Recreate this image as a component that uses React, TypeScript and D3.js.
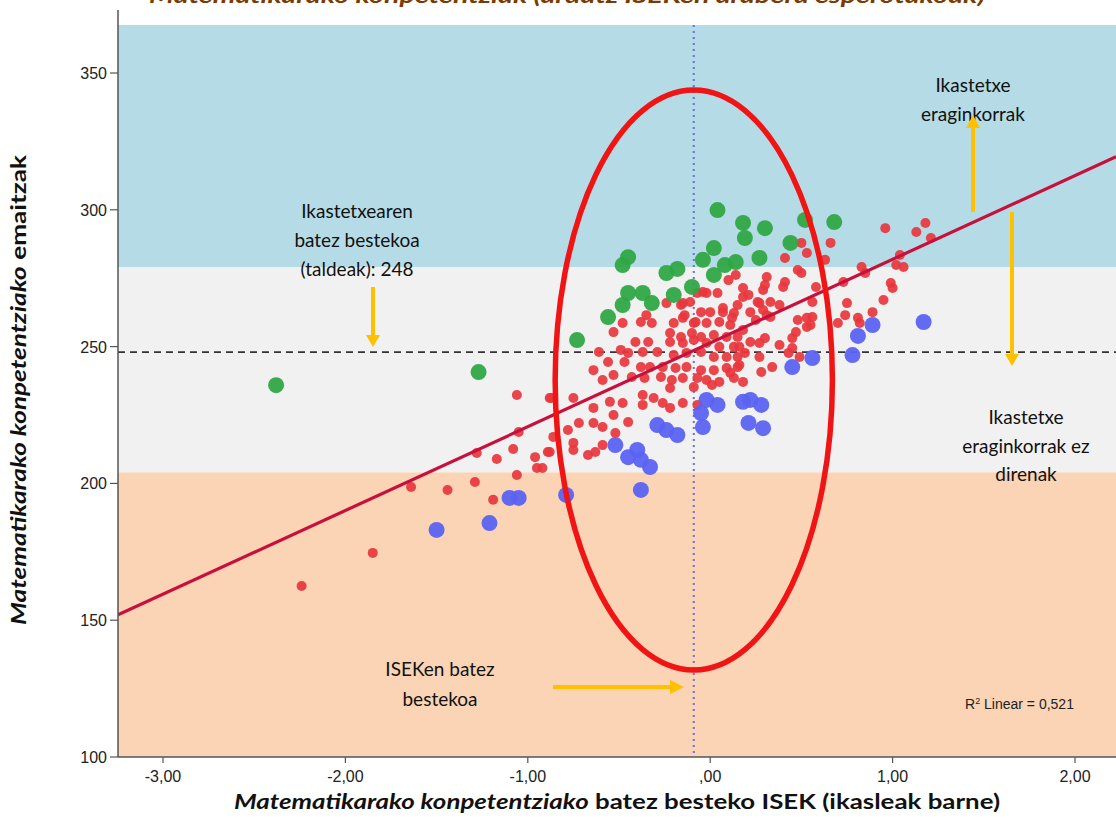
import * as d3 from 'd3'

const W = 1116
const H = 837

// eskalak: ISEK (x) eta emaitzak (y)
const xTicks = [-3, -2, -1, 0, 1, 2]
const yTicks = [100, 150, 200, 250, 300, 350]

const bandBlue = [279, 370]
const bandGrey = [204, 279]
const bandOrange = [100, 204]

const schoolMean = 248
const isekMean = -0.09
const regIntercept = 251.3
const regSlope = 30.6
const ellipseData = { cx: -0.09, cy: 237.8, rx: 0.76, ry: 106 }

const greenPoints: [number, number][] = [
  [-2.38, 235.9], [-1.27, 240.7], [-0.73, 252.4], [-0.56, 260.8], [-0.48, 265.2],
  [-0.45, 269.6], [-0.37, 269.6], [-0.32, 265.9], [-0.2, 268.9], [-0.1, 271.8],
  [-0.48, 279.8], [-0.45, 282.7], [-0.24, 276.9], [-0.18, 278.4], [-0.04, 281.7],
  [0.02, 286.0], [0.04, 299.9], [0.02, 276.2], [0.08, 279.8], [0.14, 280.9],
  [0.18, 295.2], [0.19, 289.7], [0.27, 282.4], [0.3, 293.3], [0.44, 287.9],
  [0.52, 296.3], [0.68, 295.5],
]

const bluePoints: [number, number][] = [
  [-1.5, 183.0], [-1.21, 185.5], [-1.1, 194.7], [-1.05, 194.7], [-0.79, 195.8],
  [-0.38, 197.6], [-0.52, 214.0], [-0.45, 209.6], [-0.4, 212.2], [-0.38, 208.6],
  [-0.33, 206.0], [-0.29, 221.3], [-0.24, 219.5], [-0.18, 217.7], [-0.05, 225.7],
  [-0.04, 220.6], [-0.02, 230.5], [0.04, 228.7], [0.18, 229.8], [0.22, 230.5],
  [0.28, 228.7], [0.21, 222.1], [0.29, 220.2], [0.45, 242.5], [0.56, 245.8],
  [0.78, 246.9], [0.81, 253.9], [0.89, 257.9], [1.17, 259.0],
]

const redPoints: [number, number][] = [
  [-2.24, 162.5], [-1.85, 174.6], [-1.64, 198.7], [-1.44, 197.6], [-1.29, 200.5],
  [-1.19, 194.0], [-1.28, 211.1], [-1.17, 208.9], [-1.08, 212.6], [-0.96, 209.6],
  [-0.95, 205.6], [-1.06, 203.1], [-1.06, 232.3], [-1.05, 218.8], [-0.89, 211.5],
  [-0.88, 231.2], [-0.92, 205.6], [-0.88, 211.5], [-0.75, 212.2], [-0.67, 210.4],
  [-0.63, 211.5], [-0.86, 217.0], [-0.87, 231.2],
  [-0.35, 261.5], [-0.48, 258.6], [-0.38, 259.0], [-0.32, 258.6], [-0.53, 255.3],
  [-0.24, 265.9], [-0.15, 265.9], [-0.07, 269.6], [-0.02, 269.6], [0.04, 269.6],
  [-0.05, 262.6], [0.0, 262.6], [0.07, 262.6], [0.13, 262.3], [-0.2, 258.6],
  [-0.15, 260.5], [-0.09, 258.6], [-0.02, 258.6], [0.05, 259.0], [0.11, 257.9],
  [-0.22, 255.0], [-0.16, 253.5], [-0.1, 255.0], [-0.05, 253.5], [0.02, 254.2],
  [0.09, 253.5], [-0.41, 251.7], [-0.34, 251.7], [-0.22, 251.7], [-0.15, 251.3],
  [-0.09, 252.4], [-0.02, 251.3], [0.05, 249.9], [0.13, 249.9], [-0.61, 248.0],
  [-0.49, 248.8], [-0.45, 247.7], [-0.37, 248.0], [-0.29, 248.0], [-0.2, 246.9],
  [-0.13, 247.7], [-0.05, 248.0], [0.02, 246.2], [0.09, 246.2], [0.15, 246.2],
  [-0.56, 244.4], [-0.47, 244.4], [-0.38, 242.5], [-0.33, 242.5], [-0.26, 242.5],
  [-0.19, 242.2], [-0.13, 242.5], [-0.05, 241.4], [0.02, 241.4], [0.09, 242.2],
  [0.15, 242.5], [-0.64, 241.4], [-0.59, 237.8], [-0.53, 239.6], [-0.43, 238.9],
  [-0.36, 238.5], [-0.27, 238.9], [-0.21, 237.8], [-0.15, 238.5], [-0.07, 238.5],
  [-0.02, 237.8], [0.05, 237.1], [0.13, 238.5], [-0.22, 234.9], [-0.09, 235.2],
  [0.01, 236.0], [-0.75, 231.2], [-0.64, 227.6], [-0.55, 229.8], [-0.48, 229.4],
  [-0.37, 232.3], [-0.31, 231.2], [-0.26, 229.4], [-0.37, 228.7], [-0.22, 227.6],
  [-0.15, 229.4], [-0.07, 228.7], [-0.72, 222.1], [-0.64, 222.1], [-0.59, 220.6],
  [-0.53, 225.0], [-0.45, 222.4], [-0.78, 219.5], [-0.52, 218.4], [-0.59, 214.0],
  [-0.75, 214.8],
  [0.41, 282.4], [0.48, 278.0], [0.31, 275.4], [0.14, 276.2], [0.1, 274.3],
  [-0.04, 270.0], [0.18, 271.4], [0.21, 268.9], [0.29, 270.7], [0.41, 273.6],
  [0.33, 266.3], [0.27, 265.9], [0.38, 265.2], [-0.11, 266.3], [-0.16, 265.2],
  [0.07, 264.1], [0.15, 265.2], [0.22, 262.6], [0.31, 261.5], [-0.14, 261.5],
  [0.12, 260.5], [-0.08, 259.0], [0.53, 284.2], [0.5, 276.9], [0.3, 272.5],
  [0.4, 271.8], [0.58, 271.8], [0.83, 279.1], [0.85, 276.9], [0.99, 273.2],
  [1.0, 271.4], [0.95, 267.0], [0.75, 265.9], [0.74, 261.5], [0.81, 260.5],
  [0.89, 262.6], [0.7, 258.6], [0.18, 268.1], [0.26, 266.3], [0.29, 263.4],
  [0.25, 259.7], [0.33, 260.8], [0.48, 259.7], [0.53, 260.5], [0.56, 260.8],
  [0.55, 257.9], [0.18, 256.1], [0.15, 253.5], [0.3, 253.1], [0.27, 251.3],
  [0.38, 250.6], [0.45, 253.1], [0.45, 249.5], [0.49, 246.2], [0.34, 242.5],
  [0.28, 240.7], [0.16, 243.3], [0.19, 247.7], [0.27, 246.2], [0.16, 249.9],
  [0.22, 251.7], [0.96, 293.3], [1.18, 295.2], [1.13, 291.9], [1.21, 289.7],
  [1.04, 283.5], [1.02, 279.8], [1.06, 279.1], [0.73, 273.6], [0.5, 287.9],
  [0.66, 287.9], [0.63, 281.7], [0.82, 258.6], [0.53, 257.2], [0.47, 255.3],
  [0.56, 266.3], [0.18, 237.1], [0.11, 240.4], [0.43, 247.7],
]

const SANS = 'Lato, "Open Sans", sans-serif'
const ARIAL = '"Liberation Sans", Arial, sans-serif'
const ORANGE = '#ffc000'

const fmtTick = (v: number) => {
  if (v === 0) return ',00'
  return d3.format('.2f')(v).replace('.', ',').replace('\u2212', '-')
}

export default function App() {
  const x = d3.scaleLinear().domain([-3, 2]).range([163, 1075])
  const y = d3.scaleLinear().domain([100, 350]).range([757, 73])

  const left = 118
  const right = W
  const top = 25
  const bottom = 757
  const xmin = x.invert(left)
  const xmax = x.invert(right)

  const regLine = d3.line<number>()
    .x(d => x(d))
    .y(d => y(regIntercept + regSlope * d))

  const arrowDown = (ax: number, y0: number, y1: number) => (
    <g>
      <line x1={ax} y1={y0} x2={ax} y2={y1 - 10} stroke={ORANGE} strokeWidth={4} />
      <path d={`M${ax - 7},${y1 - 12}L${ax + 7},${y1 - 12}L${ax},${y1}Z`} fill={ORANGE} />
    </g>
  )

  return (
    <svg width={W} height={H} style={{ position: 'absolute', left: 0, top: 0, background: '#fff' }}>
      <defs>
        <clipPath id="plot">
          <rect x={left} y={top} width={right - left} height={bottom - top} />
        </clipPath>
      </defs>

      {/* tituloa (goian moztuta) */}
      <text x={567} y={3} textAnchor="middle" fontFamily={SANS} fontWeight="bold" fontStyle="italic"
        fontSize={21} fill="#7b3b00" textLength={836} lengthAdjust="spacingAndGlyphs">
        Matematikarako konpetentziak (ardatz ISEKen arabera esperotakoak)
      </text>

      {/* bandak */}
      <g clipPath="url(#plot)">
        <rect x={left} y={y(bandBlue[1])} width={right - left} height={y(bandBlue[0]) - y(bandBlue[1])} fill="#b5dce6" />
        <rect x={left} y={y(bandGrey[1])} width={right - left} height={y(bandGrey[0]) - y(bandGrey[1])} fill="#f1f1f1" />
        <rect x={left} y={y(bandOrange[1])} width={right - left} height={y(bandOrange[0]) - y(bandOrange[1])} fill="#fad4b5" />

        <line x1={x(isekMean)} x2={x(isekMean)} y1={top} y2={bottom} stroke="#6b6fe0" strokeWidth={2} strokeDasharray="2,4" />
        <line x1={left} x2={right} y1={y(schoolMean)} y2={y(schoolMean)} stroke="#333" strokeWidth={1.8} strokeDasharray="7,5" />

        {redPoints.map((d, i) => (
          <circle key={'r' + i} cx={x(d[0])} cy={y(d[1])} r={5} fill="#e8363d" fillOpacity={0.92} />
        ))}
        {bluePoints.map((d, i) => (
          <circle key={'b' + i} cx={x(d[0])} cy={y(d[1])} r={8} fill="#5b63f2" fillOpacity={0.95} />
        ))}
        {greenPoints.map((d, i) => (
          <circle key={'g' + i} cx={x(d[0])} cy={y(d[1])} r={8} fill="#2fa744" fillOpacity={0.95} />
        ))}

        <path d={regLine([xmin, xmax]) ?? ''} fill="none" stroke="#c8103c" strokeWidth={3.2} />

        <ellipse cx={x(ellipseData.cx)} cy={y(ellipseData.cy)}
          rx={x(ellipseData.cx + ellipseData.rx) - x(ellipseData.cx)}
          ry={y(ellipseData.cy - ellipseData.ry) - y(ellipseData.cy)}
          fill="none" stroke="#f01414" strokeWidth={5.5} />
      </g>

      {/* ardatzak */}
      <line x1={left} x2={left} y1={10} y2={bottom} stroke="#555" strokeWidth={1.5} />
      <line x1={left} x2={right} y1={bottom} y2={bottom} stroke="#555" strokeWidth={1.5} />
      {yTicks.map(t => (
        <g key={'yt' + t}>
          <line x1={left - 8} x2={left} y1={y(t)} y2={y(t)} stroke="#555" strokeWidth={1.2} />
          <text x={left - 11} y={y(t) + 6} textAnchor="end" fontFamily={ARIAL} fontSize={16} fill="#222">{t}</text>
        </g>
      ))}
      {xTicks.map(t => (
        <g key={'xt' + t}>
          <line x1={x(t)} x2={x(t)} y1={bottom} y2={bottom + 6} stroke="#555" strokeWidth={1.2} />
          <text x={x(t)} y={bottom + 25} textAnchor="middle" fontFamily={ARIAL} fontSize={16} fill="#222">{fmtTick(t)}</text>
        </g>
      ))}

      {/* ardatzen izenburuak */}
      <text x={617} y={809} textAnchor="middle" fontFamily={SANS} fontWeight="bold" fontSize={20} fill="#111"
        textLength={766} lengthAdjust="spacingAndGlyphs">
        <tspan fontStyle="italic">Matematikarako konpetentziako</tspan> batez besteko ISEK (ikasleak barne)
      </text>
      <text transform="translate(26,390) rotate(-90)" textAnchor="middle" fontFamily={SANS} fontWeight="bold" fontSize={20} fill="#111"
        textLength={470} lengthAdjust="spacingAndGlyphs">
        <tspan fontStyle="italic">Matematikarako konpetentziako</tspan> emaitzak
      </text>

      {/* oharrak */}
      <g fontFamily={SANS} fontSize={19} fill="#111" textAnchor="middle">
        <text x={973} y={92}>Ikastetxe</text>
        <text x={973} y={121}>eraginkorrak</text>
        <text x={1026} y={424}>Ikastetxe</text>
        <text x={1026} y={453}>eraginkorrak ez</text>
        <text x={1026} y={481}>direnak</text>
        <text x={357} y={218}>Ikastetxearen</text>
        <text x={357} y={247}>batez bestekoa</text>
        <text x={357} y={276}>(taldeak): 248</text>
        <text x={440} y={676}>ISEKen batez</text>
        <text x={440} y={706}>bestekoa</text>
      </g>
      <text x={965} y={709} fontFamily={ARIAL} fontSize={14} fill="#222">
        R<tspan fontSize={9} dy={-5}>2</tspan><tspan dy={5}> Linear = 0,521</tspan>
      </text>

      {/* geziak */}
      <g>
        <line x1={973} y1={212} x2={973} y2={126} stroke={ORANGE} strokeWidth={4} />
        <path d="M966,128L980,128L973,115Z" fill={ORANGE} />
      </g>
      {arrowDown(1012, 212, 366)}
      {arrowDown(373, 287, 347)}
      <g>
        <line x1={553} y1={687} x2={672} y2={687} stroke={ORANGE} strokeWidth={4} />
        <path d="M670,680L670,694L684,687Z" fill={ORANGE} />
      </g>
    </svg>
  )
}
